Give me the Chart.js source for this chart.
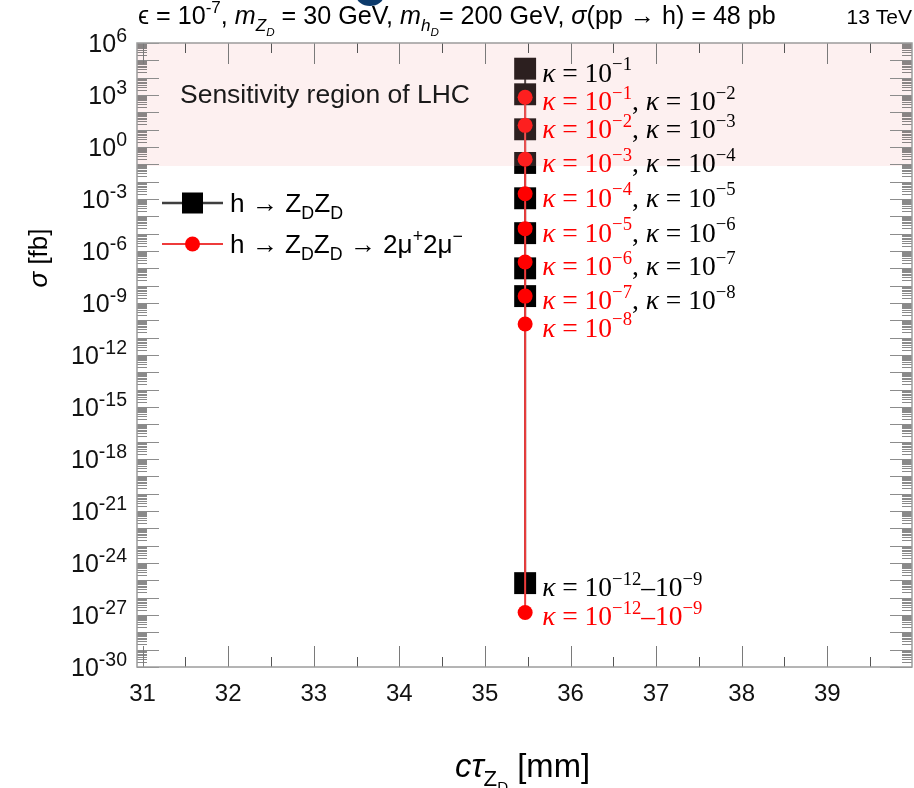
<!DOCTYPE html>
<html>
<head>
<meta charset="utf-8">
<script src="https://cdn.jsdelivr.net/npm/chart.js@4.4.1/dist/chart.umd.min.js"></script>
<style>
  html, body { margin: 0; padding: 0; background: #fff; }
  #wrap { width: 914px; height: 788px; }
</style>
</head>
<body>
<div id="wrap"><canvas id="sigmaChart" width="914" height="788"></canvas></div>
<script>
const SANS = '"Liberation Sans", Arial, "DejaVu Sans", sans-serif';
const SERIF = '"Liberation Serif", "Times New Roman", "DejaVu Serif", serif';

// decay length of Z_D in mm, every point sits at the same value
const ctau = 35.47;
// sigma(pp -> h -> Z_D Z_D) in fb
const sigmaZZ = [3.3e4, 1.1e3, 10.5, 0.12, 1.1e-3, 1.07e-5, 1.0e-7, 2.5e-9, 6.9e-26];
const kappaZZ = ['10^{−1}', '10^{−2}', '10^{−3}', '10^{−4}', '10^{−5}', '10^{−6}', '10^{−7}', '10^{−8}', '10^{−12}–10^{−9}'];
// sigma(pp -> h -> Z_D Z_D -> 2mu+ 2mu-) in fb
const sigmaMu = [7.4e2, 17.8, 0.195, 2.0e-3, 1.95e-5, 2.3e-7, 2.5e-9, 6.2e-11, 1.4e-27];
const kappaMu = ['10^{−1}', '10^{−2}', '10^{−3}', '10^{−4}', '10^{−5}', '10^{−6}', '10^{−7}', '10^{−8}', '10^{−12}–10^{−9}'];

const xTicks = [31, 32, 33, 34, 35, 36, 37, 38, 39];
const yTickExp = [6, 3, 0, -3, -6, -9, -12, -15, -18, -21, -24, -27, -30];
const lhcLimit = 0.08; // lower edge of the LHC sensitivity band (fb)

// tiny rich text: ^{sup} _{sub} /{italic}
function parseRich(s, size, dy, italic, out, r) {
    let buf = "";
    const flush = () => { if (buf) { out.push({ t: buf, size, dy, italic }); buf = ""; } };
    for (let i = 0; i < s.length; i++) {
        const ch = s[i];
        if ((ch === "^" || ch === "_" || ch === "/") && s[i + 1] === "{") {
            let depth = 1, j = i + 2;
            while (depth && j < s.length) {
                if (s[j] === "{") depth++;
                else if (s[j] === "}") depth--;
                j++;
            }
            const inner = s.slice(i + 2, j - 1);
            flush();
            if (ch === "^") parseRich(inner, size * r, dy - size * 0.42, italic, out, r);
            else if (ch === "_") parseRich(inner, size * 0.68, dy + size * 0.28, italic, out, r);
            else parseRich(inner, size, dy, true, out, r);
            i = j - 1;
        } else {
            buf += ch;
        }
    }
    flush();
    return out;
}

function fontOf(s, family) {
    return (s.italic ? "italic " : "") + s.size.toFixed(2) + "px " + family;
}

function richWidth(ctx, segs, family) {
    let w = 0;
    segs.forEach((s) => { ctx.font = fontOf(s, family); w += ctx.measureText(s.t).width; });
    return w;
}

function drawRich(ctx, str, x, y, o) {
    let size = o.size;
    const r = o.sup || 0.68;
    let segs = parseRich(str, size, 0, false, [], r);
    if (o.fit) {
        size *= o.fit / richWidth(ctx, segs, o.family);
        segs = parseRich(str, size, 0, false, [], r);
    }
    const w = richWidth(ctx, segs, o.family);
    if (o.align === "right") x -= w;
    else if (o.align === "center") x -= w / 2;
    ctx.textAlign = "left";
    ctx.textBaseline = "alphabetic";
    ctx.fillStyle = o.color || "#000";
    segs.forEach((s) => {
        ctx.font = fontOf(s, o.family);
        ctx.fillText(s.t, x, y + s.dy);
        x += ctx.measureText(s.t).width;
    });
    return x;
}

const bandPlugin = {
    id: "lhcBand",
    afterDatasetsDraw(chart) {
        const { ctx, chartArea: a, scales } = chart;
        const yb = scales.y.getPixelForValue(lhcLimit);
        ctx.save();
        ctx.fillStyle = "rgba(245,170,170,0.18)";
        ctx.fillRect(a.left, a.top, a.right - a.left, yb - a.top);
        ctx.restore();
    }
};

const framePlugin = {
    id: "frame",
    afterDraw(chart) {
        const { ctx, chartArea: a, scales } = chart;
        const xs = scales.x, ys = scales.y;
        ctx.save();

        // log ticks, left + right, pointing inward
        ctx.lineWidth = 1;
        const dMin = Math.round(Math.log10(ys.min)), dMax = Math.round(Math.log10(ys.max));
        for (let d = dMin; d <= dMax; d++) {
            const py = Math.round(ys.getPixelForValue(Math.pow(10, d))) + 0.5;
            ctx.strokeStyle = "#8c8c8c";
            ctx.beginPath();
            ctx.moveTo(a.left, py); ctx.lineTo(a.left + 22, py);
            ctx.moveTo(a.right, py); ctx.lineTo(a.right - 22, py);
            ctx.stroke();
            if (d === dMax) continue;
            ctx.strokeStyle = "rgba(60,60,60,0.6)";
            ctx.beginPath();
            for (let m = 2; m <= 9; m++) {
                const q = Math.round(ys.getPixelForValue(m * Math.pow(10, d))) + 0.5;
                ctx.moveTo(a.left, q); ctx.lineTo(a.left + 10, q);
                ctx.moveTo(a.right, q); ctx.lineTo(a.right - 10, q);
            }
            ctx.stroke();
        }

        // x ticks, bottom + top
        for (let v = Math.ceil(xs.min * 2) / 2; v <= xs.max; v += 0.5) {
            const px = Math.round(xs.getPixelForValue(v)) + 0.5;
            const len = Number.isInteger(v) ? 21 : 10;
            ctx.strokeStyle = Number.isInteger(v) ? "#7a7a7a" : "#555";
            ctx.beginPath();
            ctx.moveTo(px, a.bottom); ctx.lineTo(px, a.bottom - len);
            ctx.moveTo(px, a.top); ctx.lineTo(px, a.top + len);
            ctx.stroke();
        }

        ctx.strokeStyle = "#9c9c9c";
        ctx.lineWidth = 1.5;
        ctx.strokeRect(a.left, a.top, a.right - a.left, a.bottom - a.top);

        // tick labels
        xTicks.forEach((v) => {
            drawRich(ctx, String(v), xs.getPixelForValue(v), 701, { size: 24, family: SANS, align: "center", color: "#111" });
        });
        yTickExp.forEach((e) => {
            const py = ys.getPixelForValue(Math.pow(10, e));
            drawRich(ctx, "10^{" + e + "}", 127, py + 9, { size: 25, family: SANS, align: "right", color: "#111", sup: 0.78 });
        });

        // axis titles
        drawRich(ctx, "/{cτ}_{Z_{D}} [mm]", 455, 777, { size: 26, family: SANS, fit: 135 });
        ctx.save();
        ctx.translate(47, 258);
        ctx.rotate(-Math.PI / 2);
        drawRich(ctx, "/{σ} [fb]", 0, 0, { size: 26, family: SANS, align: "center" });
        ctx.restore();

        // header
        drawRich(ctx, "ϵ = 10^{-7}, /{m}_{/{Z}_{/{D}}} = 30 GeV, /{m}_{/{h}_{/{D}}}= 200 GeV, /{σ}(pp → h) = 48 pb",
            138, 24, { size: 20, family: SANS, fit: 638 });
        drawRich(ctx, "13 TeV", 912, 24, { size: 21, family: SANS, align: "right" });

        drawRich(ctx, "Sensitivity region of LHC", 180, 103, { size: 25, family: SANS, fit: 290, color: "#1a1a1a" });

        // legend
        const dsK = chart.data.datasets[0], dsR = chart.data.datasets[1];
        const lx0 = 162, lx1 = 223, lmid = 192.5;
        ctx.lineWidth = 2.5;
        ctx.strokeStyle = "#3f3f3f";
        ctx.beginPath(); ctx.moveTo(lx0, 203); ctx.lineTo(lx1, 203); ctx.stroke();
        ctx.fillStyle = dsK.pointBackgroundColor;
        ctx.fillRect(lmid - 10.5, 203 - 10.5, 21, 21);
        drawRich(ctx, "h → Z_{D}Z_{D}", 230, 212, { size: 24, family: SANS, fit: 113 });
        ctx.lineWidth = 2;
        ctx.strokeStyle = dsR.borderColor;
        ctx.beginPath(); ctx.moveTo(lx0, 244); ctx.lineTo(lx1, 244); ctx.stroke();
        ctx.fillStyle = dsR.pointBackgroundColor;
        ctx.beginPath(); ctx.arc(lmid, 244, 7.5, 0, Math.PI * 2); ctx.fill();
        drawRich(ctx, "h → Z_{D}Z_{D} → 2μ^{+}2μ^{−}", 230, 253, { size: 24, family: SANS, fit: 233 });

        // kappa labels next to the points
        const px = xs.getPixelForValue(ctau) + 17;
        const used = new Set();
        const opt = (c) => ({ size: 27.5, family: SERIF, color: c });
        sigmaMu.forEach((v, i) => {
            const py = ys.getPixelForValue(v);
            let x = drawRich(ctx, "/{κ} = " + kappaMu[i], px, py + 13, opt("#ff0000"));
            const j = sigmaZZ.findIndex((w, k) => !used.has(k) && Math.abs(ys.getPixelForValue(w) - py) < 10);
            if (j >= 0) {
                used.add(j);
                drawRich(ctx, ", /{κ} = " + kappaZZ[j], x, py + 13, opt("#000"));
            }
        });
        sigmaZZ.forEach((v, j) => {
            if (used.has(j)) return;
            drawRich(ctx, "/{κ} = " + kappaZZ[j], px, ys.getPixelForValue(v) + 13, opt("#000"));
        });

        // bit of a cropped slide element at the top edge
        ctx.fillStyle = "#0c3a6b";
        ctx.beginPath(); ctx.ellipse(370, -5, 14, 11, 0, 0, Math.PI * 2); ctx.fill();

        ctx.restore();
    }
};

document.addEventListener("DOMContentLoaded", function () {
    const ctx = document.getElementById("sigmaChart").getContext("2d");
    new Chart(ctx, {
        type: "scatter",
        data: {
            datasets: [
                {
                    label: "h → ZDZD",
                    data: sigmaZZ.map((v) => ({ x: ctau, y: v })),
                    order: 1,
                    showLine: true,
                    borderColor: "#333",
                    borderWidth: 2,
                    pointStyle: "rect",
                    pointRadius: 15.5,
                    pointBackgroundColor: "#000",
                    pointBorderColor: "#000",
                    pointBorderWidth: 0,
                },
                {
                    label: "h → ZDZD → 2μ+2μ-",
                    data: sigmaMu.map((v) => ({ x: ctau, y: v })),
                    order: 0,
                    showLine: true,
                    borderColor: "#ee3b3b",
                    borderWidth: 2,
                    pointStyle: "circle",
                    pointRadius: 7.5,
                    pointBackgroundColor: "#ff0000",
                    pointBorderColor: "#ff0000",
                    pointBorderWidth: 0,
                },
            ],
        },
        options: {
            responsive: false,
            animation: false,
            layout: { autoPadding: false, padding: { left: 137, top: 43, right: 2, bottom: 121 } },
            plugins: { legend: { display: false }, tooltip: { enabled: false } },
            scales: {
                x: { type: "linear", min: 30.935, max: 39.99, display: false },
                y: { type: "logarithmic", min: 1e-30, max: 1e6, display: false },
            },
        },
        plugins: [bandPlugin, framePlugin],
    });
});
</script>
</body>
</html>
